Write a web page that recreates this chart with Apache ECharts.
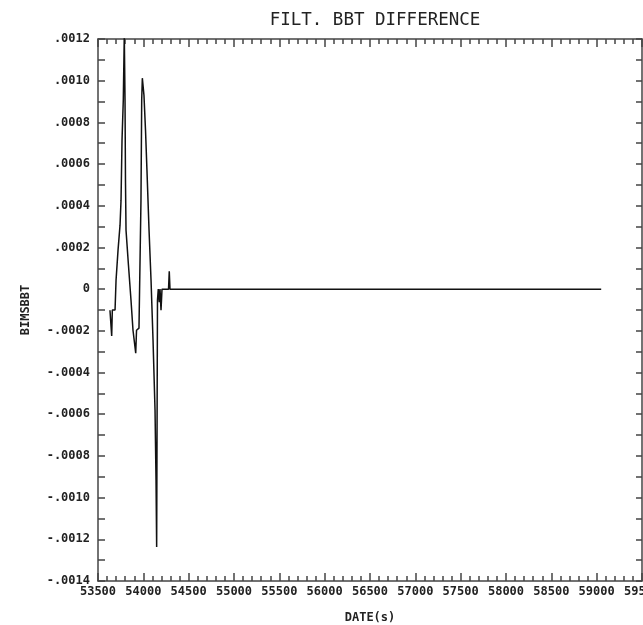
<!DOCTYPE html>
<html>
<head>
<meta charset="utf-8">
<title>FILT. BBT DIFFERENCE</title>
<script src="https://cdn.jsdelivr.net/npm/echarts@6/dist/echarts.min.js"></script>
<style>
  html, body { margin: 0; padding: 0; background: #fff; }
  #chart { width: 643px; height: 625px; }
</style>
</head>
<body>
<div id="chart"></div>
<script type="text/javascript">
// sample times (s) and filtered BBT difference
var times = [53632, 53643, 53651, 53658, 53688, 53699, 53721, 53743, 53754, 53765,
             53779, 53790, 53798, 53803, 53809, 53836, 53864, 53886, 53903, 53916,
             53925, 53952, 53963, 53974, 53982, 53989, 54007, 54024, 54040, 54063,
             54085, 54107, 54129, 54140, 54147, 54156, 54165, 54176, 54184, 54195,
             54206, 54278, 54286, 54294, 59050];
var bimsbbt = [-0.000101, -0.00011, -0.000225, -0.0001, -0.0001, 0.000043, 0.000187, 0.000307, 0.000427, 0.000715,
               0.000907, 0.00122, 0.000907, 0.000523, 0.000283, 0.000115, -0.000053, -0.000197, -0.000206, -0.000307,
               -0.000197, -0.000187, -0.000187, 0.000427, 0.000907, 0.001012, 0.00093, 0.000763, 0.000571, 0.000283,
               0.000043, -0.000245, -0.00058, -0.000916, -0.001237, -0.000053, 0, -0.000062, 0, -0.000101,
               0, 0, 0.000086, 0, 0];

var xMin = 53500, xMax = 59500, xStep = 500;
var yMin = -0.0014, yMax = 0.0012, yStep = 0.0002;

var pts = [];
for (var i = 0; i < times.length; i++) {
    pts.push([times[i], bimsbbt[i]]);
}

function fmtY(v) {
    if (Math.abs(v) < 1e-9) return '0';
    var s = Math.abs(v).toFixed(4).replace(/^0/, '');
    return (v < 0 ? '-' : '') + s;
}

var mono = 'DejaVu Sans Mono';
var frame = {show: true, onZero: false, lineStyle: {color: '#444', width: 1.5}};
var tickStyle = {color: '#444', width: 1.5};

var myChart = echarts.init(document.getElementById('chart'), null, {renderer: 'canvas'});
var option = {
    animation: false,
    backgroundColor: '#fff',
    title: {
        text: 'FILT. BBT DIFFERENCE',
        left: 370,
        textAlign: 'center',
        top: 6,
        textStyle: {fontFamily: mono, fontSize: 17.5, fontWeight: 'normal', color: '#222'}
    },
    grid: {left: 98, right: 1, top: 39, bottom: 44, outerBoundsMode: 'none', containLabel: false},
    xAxis: [
        {
            type: 'value', min: xMin, max: xMax, interval: xStep,
            position: 'bottom',
            name: 'DATE(s)', nameLocation: 'middle', nameGap: 31,
            nameTextStyle: {fontFamily: mono, fontSize: 12, color: '#222', fontWeight: 'bold'},
            axisLine: frame,
            axisTick: {show: true, inside: true, length: 8, lineStyle: tickStyle},
            minorTick: {show: true, splitNumber: 5, length: 5, lineStyle: tickStyle},
            axisLabel: {fontFamily: mono, fontSize: 12, color: '#222', fontWeight: 'bold', margin: 5,
                        hideOverlap: false, formatter: function (v) { return String(v); }},
            splitLine: {show: false}
        },
        {
            type: 'value', min: xMin, max: xMax, interval: xStep,
            position: 'top',
            axisLine: frame,
            axisTick: {show: true, inside: true, length: 8, lineStyle: tickStyle},
            minorTick: {show: true, splitNumber: 5, length: 5, lineStyle: tickStyle},
            axisLabel: {show: false},
            splitLine: {show: false}
        }
    ],
    yAxis: [
        {
            type: 'value', min: yMin, max: yMax, interval: yStep,
            position: 'left',
            name: 'BIMSBBT', nameLocation: 'middle', nameGap: 66, nameRotate: 90,
            nameTextStyle: {fontFamily: mono, fontSize: 12, color: '#222', fontWeight: 'bold'},
            axisLine: frame,
            axisTick: {show: true, inside: true, length: 7, lineStyle: tickStyle},
            minorTick: {show: true, splitNumber: 2, length: 7, lineStyle: tickStyle},
            axisLabel: {fontFamily: mono, fontSize: 12, color: '#222', fontWeight: 'bold', margin: 8, formatter: fmtY},
            splitLine: {show: false}
        },
        {
            type: 'value', min: yMin, max: yMax, interval: yStep,
            position: 'right',
            axisLine: frame,
            axisTick: {show: true, inside: true, length: 6, lineStyle: tickStyle},
            minorTick: {show: true, splitNumber: 2, length: 6, lineStyle: tickStyle},
            axisLabel: {show: false},
            splitLine: {show: false}
        }
    ],
    series: [
        {
            name: 'BIMSBBT',
            type: 'line',
            xAxisIndex: 0,
            yAxisIndex: 0,
            data: pts,
            showSymbol: false,
            clip: true,
            lineStyle: {color: '#111', width: 1.5}
        }
    ]
};
myChart.setOption(option);
</script>
</body>
</html>
